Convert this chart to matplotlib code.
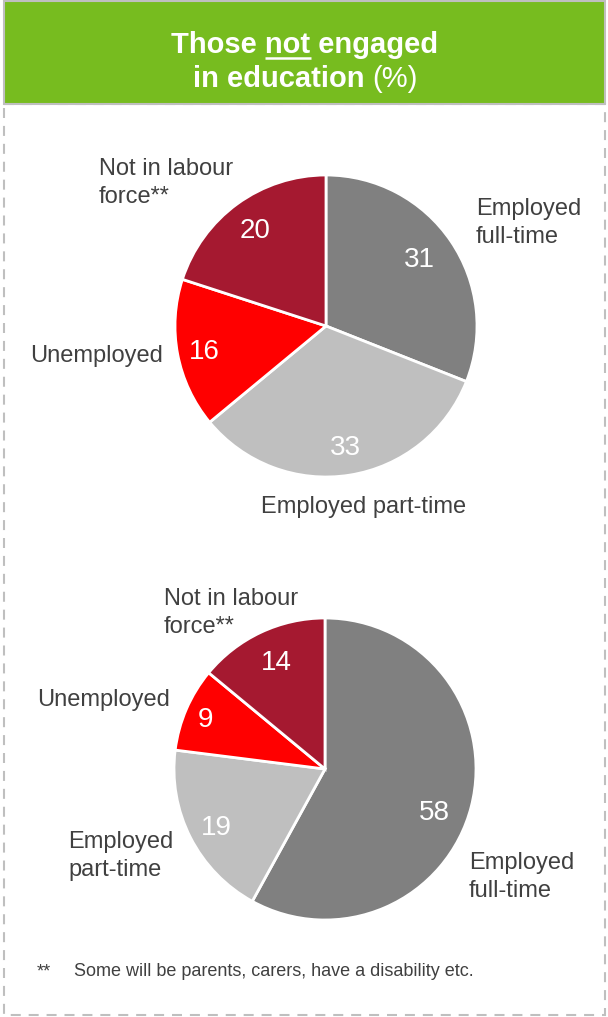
import matplotlib
matplotlib.use("Agg")
import numpy as np
import matplotlib.pyplot as plt
from matplotlib.patches import Rectangle

# ---------------- data ----------------
categories = ["Employed full-time", "Employed part-time", "Unemployed", "Not in labour force**"]
values_top = [31, 33, 16, 20]
values_bottom = [58, 19, 9, 14]
colors = ["#808080", "#BFBFBF", "#FF0000", "#A51930"]
title_line1 = ("Those ", "not", " engaged")
title_line2 = ("in education", "(%)")
footnote_mark = "**"
footnote_text = "Some will be parents, carers, have a disability etc."

# labels as drawn (line splits)
labels_top = [["Employed", "full-time"], ["Employed part-time"], ["Unemployed"], ["Not in labour", "force**"]]
labels_bottom = [["Employed", "full-time"], ["Employed", "part-time"], ["Unemployed"], ["Not in labour", "force**"]]

FONT = "Liberation Sans"
TXT = "#404040"
W, H = 608, 1017
fig = plt.figure(figsize=(W / 100, H / 100), dpi=100)
bg = fig.add_axes([0, 0, 1, 1])
bg.set_xlim(0, W)
bg.set_ylim(H, 0)
bg.axis("off")

# title box and dashed frame
bg.add_patch(Rectangle((4, 1), 601, 103, facecolor="#77BC1F", edgecolor="#BFBFBF", lw=1.5, zorder=2))
bg.add_patch(Rectangle((4, 104), 601, 911, facecolor="none", edgecolor="#BFBFBF", lw=1.5,
                       linestyle=(0, (4.8, 3.8)), zorder=1))

renderer = fig.canvas.get_renderer()


def width_of(s, **kw):
    t = bg.text(0, 0, s, **kw)
    bb = t.get_window_extent(renderer=renderer)
    t.remove()
    return bb.width


tkw = dict(fontsize=21, family=FONT, color="white")
# line 1: "Those not engaged" with "not" underlined
full1 = "".join(title_line1)
w_full = width_of(full1, fontweight="bold", **tkw)
w_pre = width_of(title_line1[0] + title_line1[1], fontweight="bold", **tkw)
w_not = width_of(title_line1[1], fontweight="bold", **tkw)
cx = W / 2 + 1
x0 = cx - w_full / 2
y1 = 53
bg.text(x0, y1, full1, ha="left", va="baseline", fontweight="bold", zorder=3, **tkw)
bg.plot([x0 + w_pre - w_not, x0 + w_pre], [y1 + 4.5, y1 + 4.5], color="white", lw=1.8,
        solid_capstyle="butt", zorder=3)
# line 2: "in education" bold + "(%)" regular
w_b = width_of(title_line2[0], fontweight="bold", **tkw)
w_n = width_of(title_line2[1], fontweight="normal", **tkw)
sp = 0.278 * 21 * 100 / 72
tot = w_b + sp + w_n
x0 = cx - tot / 2
y2 = 87
bg.text(x0, y2, title_line2[0], ha="left", va="baseline", fontweight="bold", zorder=3, **tkw)
bg.text(x0 + w_b + sp, y2, title_line2[1], ha="left", va="baseline", fontweight="normal", zorder=3, **tkw)


def draw_pie(vals, cx, cy, r, dists, dang):
    ax = fig.add_axes([(cx - r) / W, (H - cy - r) / H, 2 * r / W, 2 * r / H])
    wedges, texts, autotexts = ax.pie(
        vals, colors=colors, startangle=90, counterclock=False,
        autopct=lambda p: f"{p:.0f}", pctdistance=0.8,
        wedgeprops=dict(edgecolor="white", linewidth=2),
        textprops=dict(color="white", fontsize=20, family=FONT))
    for wdg, at, d, da in zip(wedges, autotexts, dists, dang):
        wdg.set_clip_on(False)
        ang = np.deg2rad((wdg.theta1 + wdg.theta2) / 2 + da)
        at.set_position((d * np.cos(ang), d * np.sin(ang)))
        at.set_va("center_baseline")
    ax.set_xlim(-1, 1)
    ax.set_ylim(-1, 1)
    ax.set_aspect("equal")
    ax.axis("off")
    return ax


draw_pie(values_top, 326, 326, 151, [0.77, 0.80, 0.82, 0.80], [2, 0, 0, 0])
draw_pie(values_bottom, 325, 769, 151, [0.77, 0.81, 0.86, 0.79], [-6, 0, 0, -1])

lkw = dict(fontsize=17, family=FONT, color=TXT, va="baseline")


def put_label(lines, x, y, ha="left", step=28):
    for i, s in enumerate(lines):
        bg.text(x, y + i * step, s, ha=ha, **lkw)


# top pie labels
put_label(labels_top[0], 476, 215)
put_label(labels_top[1], 364, 513, ha="center")
put_label(labels_top[2], 30, 362)
put_label(labels_top[3], 99, 175)
# bottom pie labels
put_label(labels_bottom[0], 469, 869)
put_label(labels_bottom[1], 68, 848)
put_label(labels_bottom[2], 37, 706)
put_label(labels_bottom[3], 164, 605)

# footnote
bg.text(37, 976, footnote_mark, ha="left", va="baseline", fontsize=13, family=FONT, color=TXT)
bg.text(74, 976, footnote_text, ha="left", va="baseline", fontsize=13, family=FONT, color=TXT)

fig.savefig("out.png", dpi=100)
